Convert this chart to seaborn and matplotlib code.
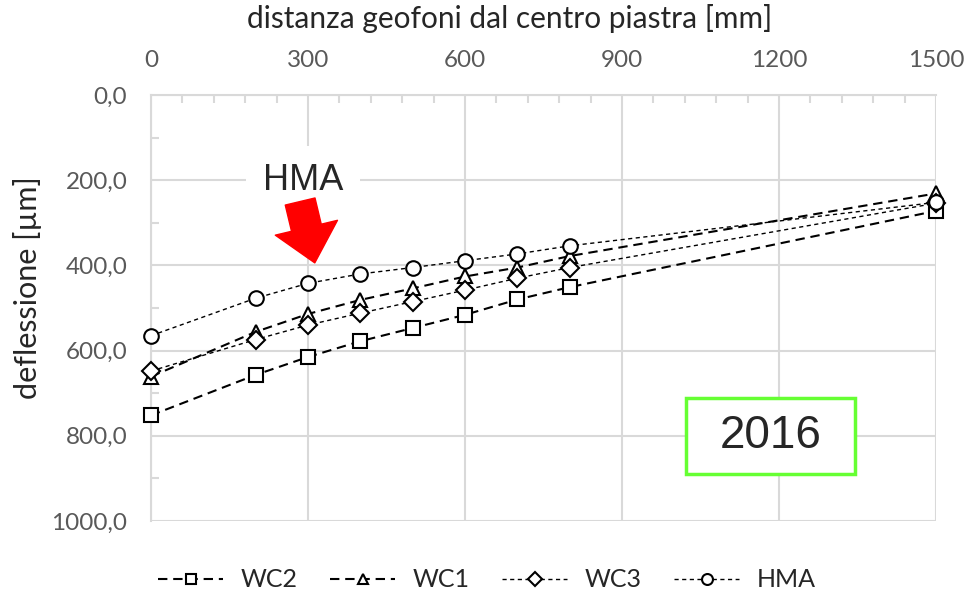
import numpy as np
import pandas as pd
import matplotlib
matplotlib.use("Agg")
import matplotlib.pyplot as plt
import matplotlib.ticker as mticker
from matplotlib.patches import Rectangle
import seaborn as sns

# distanze geofoni [mm] e deflessioni [um]
distanza = [0, 200, 300, 400, 500, 600, 700, 800, 1500]
wc2 = [752, 657, 615, 578, 547, 516, 480, 451, 272]
wc1 = [661, 556, 514, 481, 454, 426, 405, 378, 231]
wc3 = [648, 574, 540, 512, 485, 458, 430, 405, 254]
hma = [565, 477, 442, 420, 405, 389, 373, 354, 252]

serie = ["WC2", "WC1", "WC3", "HMA"]
valori = [wc2, wc1, wc3, hma]
marker = ["s", "^", "D", "o"]
msize = [10, 10.5, 9.5, 10.5]
lw = [1.5, 1.5, 1.0, 1.0]
dash = [(4.5, 2.8), (4.5, 2.8), (3, 2.5), (3, 2.5)]

sns.set_style("white")
plt.rcParams['font.family'] = ['Lato', 'DejaVu Sans']

fig = plt.figure(figsize=(9.64, 5.94), dpi=100)
ax = fig.add_axes([0.1566, 0.1229, 0.8144, 0.7171])

grey = "#d9d9d9"
for nome, y, m, ms, w, d in zip(serie, valori, marker, msize, lw, dash):
    sns.lineplot(x=distanza, y=y, ax=ax, color="black", linewidth=w,
                 marker=m, markersize=ms, markerfacecolor="white",
                 markeredgecolor="black", markeredgewidth=1.5,
                 dashes=d, label=nome, zorder=3, clip_on=False)

ax.set_xlim(0, 1500)
ax.set_ylim(1000, 0)
ax.xaxis.tick_top()
ax.xaxis.set_label_position("top")
ax.xaxis.set_major_locator(mticker.MultipleLocator(300))
ax.xaxis.set_minor_locator(mticker.MultipleLocator(60))
ax.yaxis.set_major_locator(mticker.MultipleLocator(200))
ax.yaxis.set_minor_locator(mticker.MultipleLocator(100))
ax.yaxis.set_major_formatter(mticker.FuncFormatter(lambda v, p: f"{v:.1f}".replace(".", ",")))

ax.grid(True, which="major", color=grey, linewidth=1.5, zorder=0)
for s in ["right", "bottom"]:
    ax.spines[s].set_visible(False)
for s in ["left", "top"]:
    ax.spines[s].set_color(grey)
    ax.spines[s].set_linewidth(1.5)
ax.tick_params(which="both", direction="in", color=grey, width=1.5,
               labelcolor="#595959", labelsize=17.5, pad=17)
ax.tick_params(which="major", length=0)
ax.tick_params(which="minor", length=6)
ax.tick_params(axis="x", which="both", top=True, bottom=False)
ax.tick_params(axis="y", which="both", left=True, right=False)

ax.set_xlabel("distanza geofoni dal centro piastra [mm]", fontsize=21.5)
ax.set_ylabel("deflessione [µm]", fontsize=22)
ax.xaxis.set_label_coords(0.457, 1.157)
ax.yaxis.set_label_coords(-0.139, 0.547)

# annotazione HMA con freccia rossa
ax.text(290, 200, "HMA", fontsize=26, family="Liberation Sans", ha="center",
        va="center", zorder=4,
        bbox=dict(facecolor="white", edgecolor="none", pad=12))
ax.annotate("", xy=(313, 394), xytext=(285, 250),
            arrowprops=dict(arrowstyle="simple,head_length=26,head_width=46,tail_width=22",
                            mutation_scale=1, color="red", shrinkA=0, shrinkB=0),
            zorder=4)

# riquadro anno
ax.add_patch(Rectangle((0.6815, 0.110), 0.2153, 0.179, transform=ax.transAxes,
                       facecolor="white", edgecolor="#66ff33", linewidth=2.5, zorder=4))
ax.text(0.789, 0.2, "2016", transform=ax.transAxes, fontsize=33,
        family="Liberation Sans", ha="center", va="center", zorder=5)

leg = ax.legend(loc="center", bbox_to_anchor=(0.428, -0.138), ncol=4,
                frameon=False, fontsize=18, markerscale=0.75, handlelength=2.6,
                columnspacing=1.3, handletextpad=0.7)

fig.savefig("out.png", dpi=100)
